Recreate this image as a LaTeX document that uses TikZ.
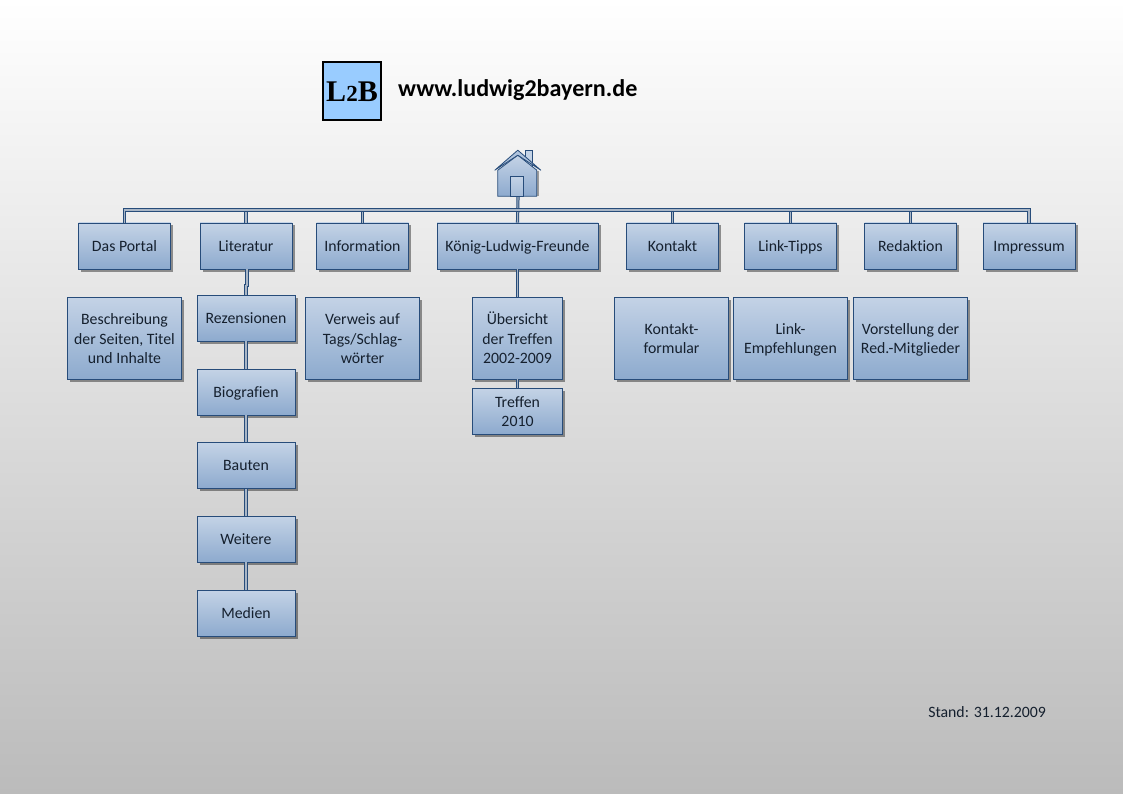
\documentclass[tikz,border=0pt]{standalone}
\usepackage{fontspec}
\setmainfont{Carlito}[Ligatures=NoCommon]
\newfontfamily\logofont{Liberation Serif}
\usetikzlibrary{shadows}
\definecolor{boxtop}{HTML}{C4D3E6}
\definecolor{boxbottom}{HTML}{8DAACE}
\definecolor{boxline}{HTML}{274C7A}
\definecolor{boxtext}{HTML}{15202E}
\definecolor{bgbottom}{HTML}{BBBBBB}
\definecolor{logoblue}{HTML}{99CCFF}
\definecolor{linkmid}{HTML}{A9B6C6}
\newcommand{\tallstrut}{\rule{0pt}{16pt}}
\newcommand{\firstline}{\rule{0pt}{18pt}}
\tikzset{
  entry/.style={draw=boxline,line width=0.9pt,top color=boxtop,bottom color=boxbottom,
    drop shadow={shadow xshift=2.5pt,shadow yshift=-2.5pt,fill=black,opacity=0.4},
    align=center,text=boxtext,inner sep=0pt,font=\fontsize{15.8}{19.6}\selectfont,
    execute at begin node=\tallstrut,execute at end node=\strut},
  menu/.style={entry,minimum width=92pt,minimum height=46pt},
  sub/.style={entry,minimum width=98pt,minimum height=46pt},
  info/.style={entry,minimum width=113.5pt,minimum height=82pt},
  link/.style={draw=boxline,line width=1pt,double=linkmid,double distance=1.1pt},
}
\begin{document}
\begin{tikzpicture}[x=1pt,y=1pt]
  \fill[top color=white,bottom color=bgbottom] (0,0) rectangle (1123,-794);

  % logo and address
  \node[draw=black,line width=2pt,fill=logoblue,minimum size=58pt,inner sep=0pt,
    font=\logofont\bfseries\fontsize{30}{30}\selectfont] (logo) at (352,-91.5) {L{\fontsize{23}{23}\selectfont 2}B};
  \node[anchor=west,inner sep=0pt,font=\bfseries\fontsize{24.1}{25}\selectfont] (title) at (398,-90.5) {www.ludwig2bayern.de};

  % house
  \node[minimum width=46pt,minimum height=47pt,inner sep=0pt] (home) at (518,-173.5) {};
  \fill[black,opacity=0.35] ([shift={(6,1)}]home.south west) rectangle ([shift={(-2,26)}]home.south east);
  \draw[boxline,line width=0.8pt,fill=boxtop] ([shift={(31,31)}]home.south west) rectangle ([shift={(38,47)}]home.south west);
  \draw[boxline,line width=0.8pt,top color=boxtop,bottom color=boxbottom]
    ([shift={(3,1)}]home.south west) -- ([shift={(3,27)}]home.south west) -- ([shift={(23,42)}]home.south west)
    -- ([shift={(42,27)}]home.south west) -- ([shift={(42,1)}]home.south west) -- cycle;
  \draw[boxline,line width=0.8pt,fill=boxbottom!70!white,line join=round]
    ([shift={(0,27)}]home.south west) -- ([shift={(23,47)}]home.south west) -- ([shift={(46,27)}]home.south west)
    -- ([shift={(23,42)}]home.south west) -- cycle;
  \draw[boxline,line width=0.8pt,top color=boxtop,bottom color=boxbottom!80!white]
    ([shift={(16,1)}]home.south west) rectangle ([shift={(29,21)}]home.south west);

  % menu row
  \node[menu] (portal) at (124.5,-246) {Das Portal};
  \node[menu,right of=portal,node distance=121.5pt] (lit) {Literatur};
  \node[menu,right of=lit,node distance=116.5pt] (inf) {Information};
  \node[menu,minimum width=161pt,right of=inf,node distance=155pt] (freunde) {König-Ludwig-Freunde};
  \node[menu,right of=freunde,node distance=155pt] (kontakt) {Kontakt};
  \node[menu,right of=kontakt,node distance=118pt] (tipps) {Link-Tipps};
  \node[menu,right of=tipps,node distance=120pt] (red) {Redaktion};
  \node[menu,right of=red,node distance=118.5pt] (imp) {Impressum};

  % second level
  \node[info,below of=portal,node distance=92pt] (portaltext) {\firstline Beschreibung\\der Seiten, Titel\\und Inhalte};
  \node[sub,below of=lit,node distance=72pt] (rez) {Rezensionen};
  \node[sub,below of=rez,node distance=74pt] (bio) {Biografien};
  \node[sub,below of=bio,node distance=73.5pt] (bauten) {Bauten};
  \node[sub,below of=bauten,node distance=73.5pt] (weitere) {Weitere};
  \node[sub,below of=weitere,node distance=74pt] (medien) {Medien};
  \node[info,below of=inf,node distance=92pt] (inftext) {\firstline Verweis auf\\Tags/Schlag-\\wörter};
  \node[info,minimum width=90pt,below of=freunde,node distance=92pt] (treffen) {\firstline Übersicht\\der Treffen\\2002-2009};
  \node[sub,minimum width=90pt,below of=treffen,node distance=73pt] (neu) {\firstline Treffen\\2010};
  \node[info,xshift=-1pt,below of=kontakt,node distance=92pt] (formular) {\firstline Kontakt-\\formular};
  \node[info,below of=tipps,node distance=92pt] (empf) {\firstline Link-\\Empfehlungen};
  \node[info,below of=red,node distance=92pt] (team) {\firstline Vorstellung der\\Red.-Mitglieder};

  \node[anchor=east,inner sep=0pt,text=boxtext,font=\fontsize{15.8}{19}\selectfont] (stand) at (1046,-712.5) {Stand: 31.12.2009};

  % connectors
  \coordinate (bar) at (518,-210);
  \draw[link] (home.south) -- (freunde.north);
  \foreach \m in {lit,inf,kontakt,tipps,red}
    \draw[link] (\m.north) -- (\m.north |- bar);
  \draw[link] (portal.north) |- (bar) -| (imp.north);
  \draw[link] ([xshift=1pt]lit.south) -- ++(0,-16) -| (rez.north);
  \draw[link] (rez) -- (bio);
  \draw[link] (bio) -- (bauten);
  \draw[link] (bauten) -- (weitere);
  \draw[link] (weitere) -- (medien);
  \draw[link] (freunde) -- (treffen);
  \draw[link] (treffen) -- (neu);
\end{tikzpicture}
\end{document}
